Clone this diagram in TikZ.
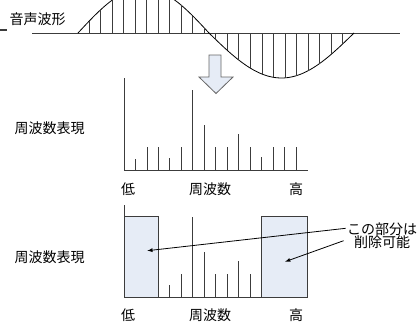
\documentclass[tikz,border=0pt]{standalone}
\usepackage{fontspec}
\setmainfont{Noto Sans CJK JP}
\usetikzlibrary{calc}
\usetikzlibrary{arrows}
\definecolor{linegray}{HTML}{3C3C3C}
\definecolor{cutblue}{HTML}{E6ECF6}
\begin{document}
\begin{tikzpicture}[x=1pt,y=-1pt,line width=.8pt,
 font=\fontsize{14}{13}\selectfont]
\useasboundingbox (0,0) rectangle (419,322);
\clip (0,0) rectangle (419,322);
\fill[white] (0,0) rectangle (419,322);
% waveform
\draw[linegray, line width=1.6pt] (0,30)--(7,30);
\node (wavelabel) at (37.5,19) {音声波形};
\draw[linegray] (32,33)--(400,33);
\draw[black] plot[domain=78:209, samples=50] (\x,{33-45*sin((\x-78)/131*180)});
\draw[black] plot[domain=209:354, samples=50] (\x,{33+45*sin((\x-209)/145*180)});
\foreach \k [evaluate=\k as \xk using 89+11.53*\k] in {0,...,10} {
 \draw[linegray] (\xk,33) -- (\xk,{33-45*sin((\xk-78)/131*180)});
}
\foreach \k [evaluate=\k as \xk using 89+11.53*\k] in {11,...,22} {
 \draw[linegray] (\xk,33) -- (\xk,{33+45*sin((\xk-209)/145*180)});
}
% transform arrow
\draw[gray!80!black, fill=cutblue] (209,55)--(221,55)--(221,77)--(233,77)--(216,93.5)--(199,77)--(209,77)--cycle;
% spectrum
\node (speclabel) at (49.5,128) {周波数表現};
\draw[linegray] (124,170)--(308,170);
\draw[linegray] (124,170)--++(0,-92);
\foreach \k/\h in {1/11,2/23,3/23,4/12,5/23,6/80,7/45,8/23,9/23,10/36,11/23,12/13,13/23,14/23,15/23} {
 \draw[linegray] (124+11.47*\k,170) --++(0,-\h);
}
\node (low) at (128,189) {低};
\node (freq) at (210,189) {周波数};
\node (high) at (296,189) {高};
% reduced spectrum
\node (cutlabel) at (49.5,257) {周波数表現};
\draw[linegray] (124,297)--(308,297);
\draw[linegray] (124,297)--++(0,-92);
\foreach \k/\h in {4/12,5/23,6/80,7/45,8/23,9/23,10/36,11/23} {
 \draw[linegray] (124+11.47*\k,297) --++(0,-\h);
}
\draw[linegray, fill=cutblue] (124,216) rectangle (158.4,297);
\draw[linegray, fill=cutblue] (261.6,216) rectangle (307.5,297);
\node (lowb) at (128,315) {低};
\node (freqb) at (210,315) {周波数};
\node (highb) at (296,315) {高};
\node[align=center, inner sep=1] (note) at (382,236) {この部分は\\削除可能};
\coordinate (lowcut) at (147.3,250.7);
\coordinate (highcut) at (285,261.7);
\draw[black, ->, >=latex] (note.west |- 0,228.3) -- (lowcut);
\draw[black, ->, >=latex] ($(note.west |- 0,240.7)+(-2,0)$) -- (highcut);
\end{tikzpicture}
\end{document}
